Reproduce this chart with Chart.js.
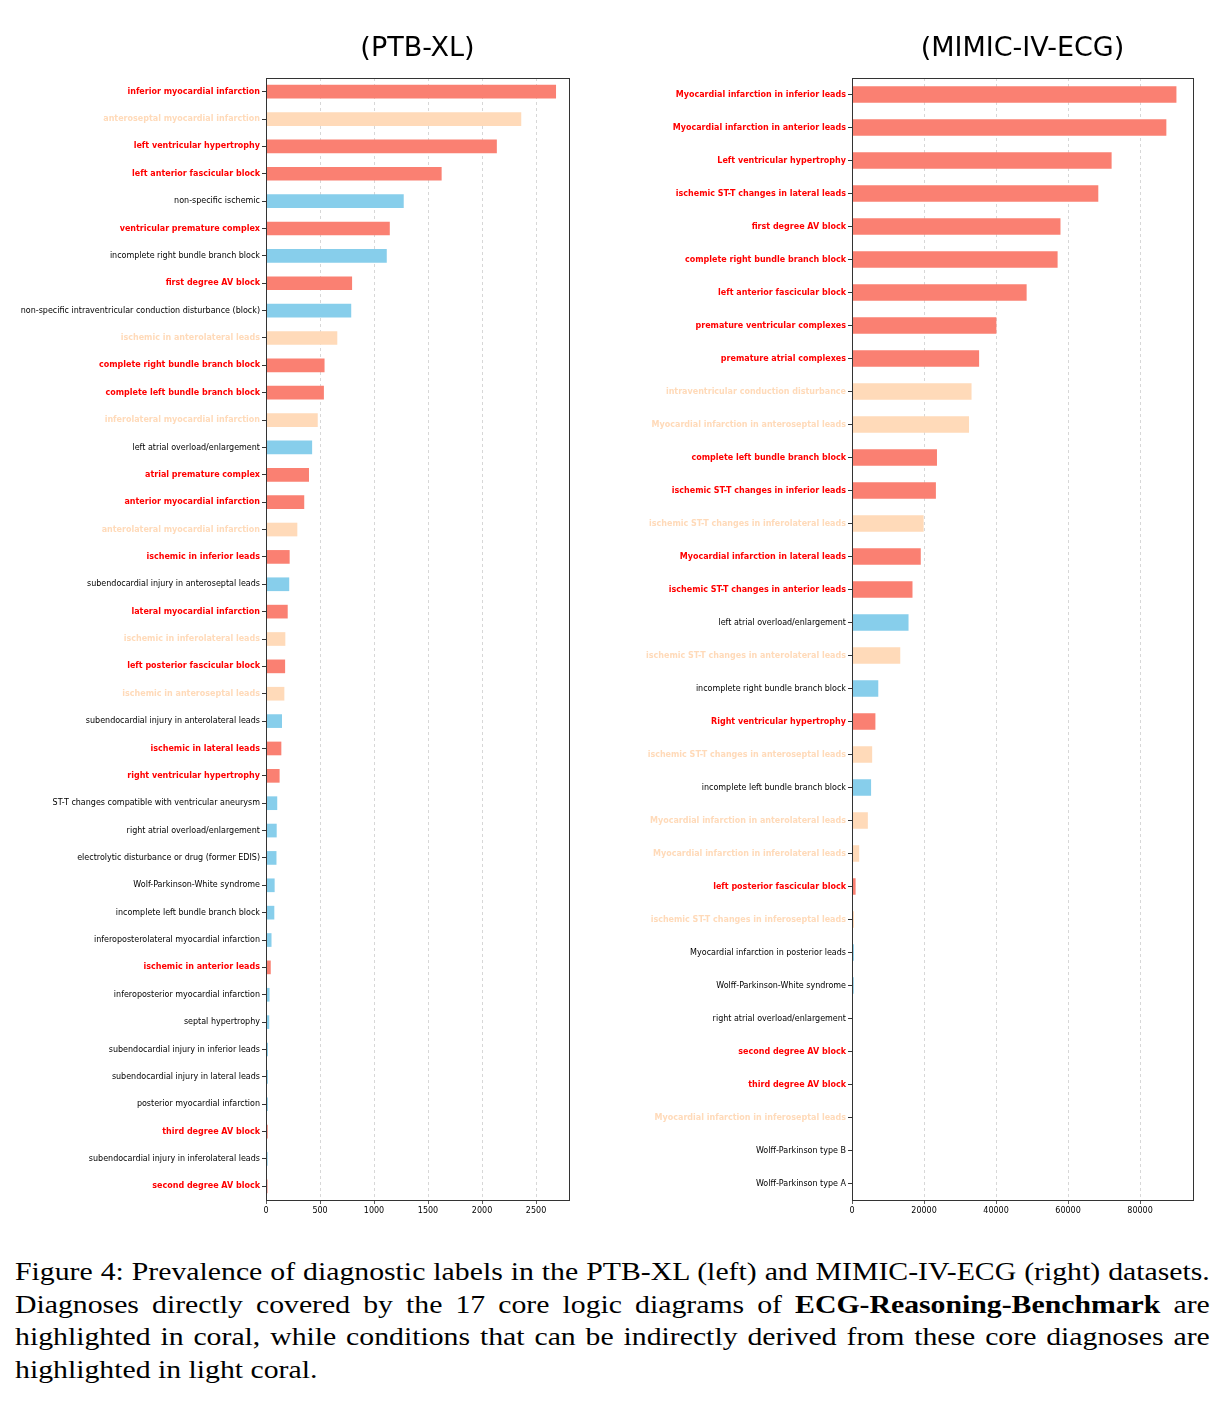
<!DOCTYPE html>
<html>
<head>
<meta charset="utf-8">
<script src="https://cdn.jsdelivr.net/npm/chart.js@4.4.1/dist/chart.umd.min.js"></script>
<style>
  body { margin: 0; background: #fff; width: 1224px; height: 1401px; position: relative; overflow: hidden; }
  #ptb { position: absolute; left: 0; top: 20px; }
  #mimic { position: absolute; left: 600px; top: 20px; }
  #caption {
    position: absolute; left: 15px; top: 1256px; width: 1004px;
    font-family: "Liberation Serif", "Times New Roman", serif;
    font-size: 25px; line-height: 32.7px; text-align: justify; color: #000;
    transform: scaleX(1.19); transform-origin: left top;
  }
</style>
</head>
<body>
<canvas id="ptb" width="600" height="1200"></canvas>
<canvas id="mimic" width="624" height="1200"></canvas>
<div id="caption">Figure 4: Prevalence of diagnostic labels in the PTB-XL (left) and MIMIC-IV-ECG (right) datasets. Diagnoses directly covered by the 17 core logic diagrams of <b>ECG-Reasoning-Benchmark</b> are highlighted in coral, while conditions that can be indirectly derived from these core diagnoses are highlighted in light coral.</div>
<script>
// PTB-XL
var ptbLabels = [
  "inferior myocardial infarction", "anteroseptal myocardial infarction", "left ventricular hypertrophy",
  "left anterior fascicular block", "non-specific ischemic", "ventricular premature complex",
  "incomplete right bundle branch block", "first degree AV block",
  "non-specific intraventricular conduction disturbance (block)", "ischemic in anterolateral leads",
  "complete right bundle branch block", "complete left bundle branch block", "inferolateral myocardial infarction",
  "left atrial overload/enlargement", "atrial premature complex", "anterior myocardial infarction",
  "anterolateral myocardial infarction", "ischemic in inferior leads", "subendocardial injury in anteroseptal leads",
  "lateral myocardial infarction", "ischemic in inferolateral leads", "left posterior fascicular block",
  "ischemic in anteroseptal leads", "subendocardial injury in anterolateral leads", "ischemic in lateral leads",
  "right ventricular hypertrophy", "ST-T changes compatible with ventricular aneurysm",
  "right atrial overload/enlargement", "electrolytic disturbance or drug (former EDIS)",
  "Wolf-Parkinson-White syndrome", "incomplete left bundle branch block",
  "inferoposterolateral myocardial infarction", "ischemic in anterior leads", "inferoposterior myocardial infarction",
  "septal hypertrophy", "subendocardial injury in inferior leads", "subendocardial injury in lateral leads",
  "posterior myocardial infarction", "third degree AV block", "subendocardial injury in inferolateral leads",
  "second degree AV block"
];
var ptbCounts = [
  2685, 2363, 2137, 1626, 1275, 1146, 1118, 797, 789, 660,
  542, 536, 479, 427, 398, 354, 290, 219, 215, 201,
  179, 177, 170, 148, 142, 126, 104, 99, 97, 80,
  77, 51, 44, 33, 30, 18, 17, 17, 16, 15, 14
];
var ptbGroups = [
  "core", "derived", "core", "core", "other", "core", "other", "core", "other", "derived",
  "core", "core", "derived", "other", "core", "core", "derived", "core", "other", "core",
  "derived", "core", "derived", "other", "core", "core", "other", "other", "other", "other",
  "other", "other", "core", "other", "other", "other", "other", "other", "core", "other", "core"
];
var ptbTicks = [0, 500, 1000, 1500, 2000, 2500];

// MIMIC-IV-ECG
var mimicLabels = [
  "Myocardial infarction in inferior leads", "Myocardial infarction in anterior leads", "Left ventricular hypertrophy",
  "ischemic ST-T changes in lateral leads", "first degree AV block", "complete right bundle branch block",
  "left anterior fascicular block", "premature ventricular complexes", "premature atrial complexes",
  "intraventricular conduction disturbance", "Myocardial infarction in anteroseptal leads",
  "complete left bundle branch block", "ischemic ST-T changes in inferior leads",
  "ischemic ST-T changes in inferolateral leads", "Myocardial infarction in lateral leads",
  "ischemic ST-T changes in anterior leads", "left atrial overload/enlargement",
  "ischemic ST-T changes in anterolateral leads", "incomplete right bundle branch block",
  "Right ventricular hypertrophy", "ischemic ST-T changes in anteroseptal leads",
  "incomplete left bundle branch block", "Myocardial infarction in anterolateral leads",
  "Myocardial infarction in inferolateral leads", "left posterior fascicular block",
  "ischemic ST-T changes in inferoseptal leads", "Myocardial infarction in posterior leads",
  "Wolff-Parkinson-White syndrome", "right atrial overload/enlargement", "second degree AV block",
  "third degree AV block", "Myocardial infarction in inferoseptal leads", "Wolff-Parkinson type B",
  "Wolff-Parkinson type A"
];
var mimicCounts = [
  90100, 87300, 72100, 68400, 57900, 57100, 48500, 40100, 35300, 33200,
  32500, 23600, 23300, 19900, 19100, 16800, 15700, 13400, 7300, 6500,
  5600, 5300, 4400, 2000, 1000, 550, 520, 480, 200, 150,
  120, 50, 10, 5
];
var mimicGroups = [
  "core", "core", "core", "core", "core", "core", "core", "core", "core", "derived",
  "derived", "core", "core", "derived", "core", "core", "other", "derived", "other", "core",
  "derived", "other", "derived", "derived", "core", "derived", "other", "other", "other", "core",
  "core", "derived", "other", "other"
];
var mimicTicks = [0, 20000, 40000, 60000, 80000];

var barColors = { core: "#FA8072", derived: "#FFDAB9", other: "#87CEEB" };
var labelColors = { core: "#FF0000", derived: "#FFDAB9", other: "#000000" };

var framePlugin = {
  id: "frame",
  afterDatasetsDraw: function(chart) {
    var a = chart.chartArea, c = chart.ctx;
    c.save();
    c.strokeStyle = "#333";
    c.lineWidth = 1;
    c.strokeRect(a.left + 0.5, a.top + 0.5, a.right - a.left, a.bottom - a.top);
    c.restore();
  }
};

function makeChart(id, title, labels, counts, groups, tickValues, xMax, axisWidth) {
  var ctx = document.getElementById(id).getContext("2d");
  return new Chart(ctx, {
    type: "bar",
    data: {
      labels: labels,
      datasets: [{
        data: counts,
        backgroundColor: groups.map(function(g) { return barColors[g]; }),
        borderWidth: 0,
        barPercentage: 0.5,
        categoryPercentage: 1.0
      }]
    },
    options: {
      indexAxis: "y",
      responsive: false,
      animation: false,
      layout: { padding: { left: 0, right: 31, top: 0, bottom: 0 } },
      plugins: {
        legend: { display: false },
        tooltip: { enabled: false },
        title: {
          display: true,
          text: title,
          fullSize: false,
          color: "#000",
          font: { family: "DejaVu Sans", size: 27, weight: "normal", lineHeight: 1.2 },
          padding: { top: 13, bottom: 12.6 }
        }
      },
      scales: {
        x: {
          min: 0,
          max: xMax,
          border: { display: false, dash: [3, 3] },
          grid: { color: "rgba(0,0,0,0.2)", lineWidth: 0.8, tickColor: "#333", tickLength: 4 },
          afterBuildTicks: function(s) {
            s.ticks = tickValues.map(function(v) { return { value: v }; });
          },
          ticks: {
            maxRotation: 0,
            padding: 2,
            color: "#000",
            font: { family: "DejaVu Sans", size: 8 },
            callback: function(v) { return String(v); }
          },
          afterFit: function(s) { s.height = 20; }
        },
        y: {
          border: { display: false },
          grid: { drawOnChartArea: false, offset: false, tickColor: "#333", tickLength: 4 },
          ticks: {
            autoSkip: false,
            padding: 2,
            color: function(c) { return labelColors[groups[c.index]]; },
            font: function(c) {
              return { family: "DejaVu Sans", size: 8, weight: groups[c.index] === "other" ? "normal" : "bold" };
            }
          },
          afterFit: function(s) { s.width = axisWidth; }
        }
      }
    },
    plugins: [framePlugin]
  });
}

var chart1 = makeChart("ptb", "(PTB-XL)", ptbLabels, ptbCounts, ptbGroups, ptbTicks, 2805, 266);
var chart2 = makeChart("mimic", "(MIMIC-IV-ECG)", mimicLabels, mimicCounts, mimicGroups, mimicTicks, 94700, 252);
</script>
</body>
</html>
